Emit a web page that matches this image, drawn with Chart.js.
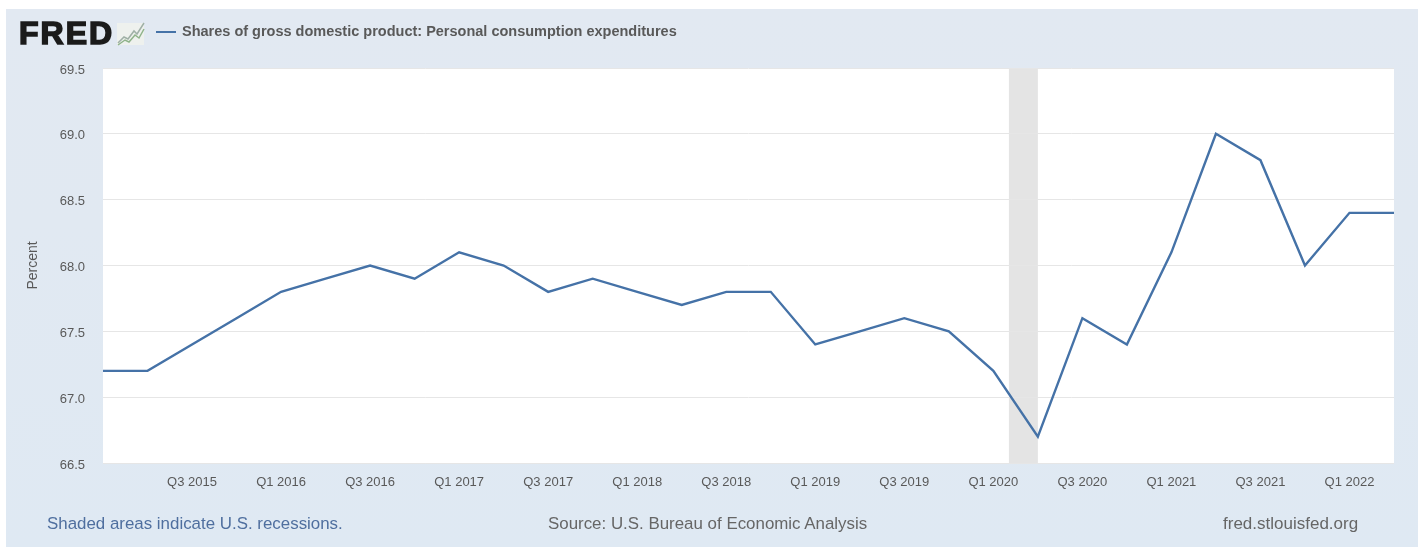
<!DOCTYPE html>
<html>
<head>
<meta charset="utf-8">
<title>Shares of gross domestic product: Personal consumption expenditures</title>
<script src="https://cdn.jsdelivr.net/npm/chart.js@4"></script>
<style>
  html, body { margin: 0; padding: 0; background: #fff; }
  body { width: 1425px; height: 548px; overflow: hidden; position: relative; font-family: "Liberation Sans", Arial, sans-serif; }
  #panel { position: absolute; left: 6px; top: 9px; width: 1412px; height: 538px; background: linear-gradient(180deg, #e2e9f2 0%, #e1e9f2 40%, #dfe9f3 100%); }
  #chartBox { position: absolute; left: 0; top: 0; width: 1425px; height: 548px; }
  .label { position: absolute; white-space: nowrap; }
  #logo { left: 19px; top: 15px; font-size: 32px; line-height: 37px; font-weight: 700; color: #1b1b1b; -webkit-text-stroke: 1.6px #1b1b1b; letter-spacing: 2px; }
  #logoIcon { position: absolute; left: 116px; top: 20px; }
  #legendDash { position: absolute; left: 156px; top: 31px; width: 20px; height: 2px; background: #4572a7; }
  #legendText { left: 182px; top: 22px; font-size: 14.5px; line-height: 18px; font-weight: 700; color: #595959; }
  #recessionNote { left: 47px; top: 515px; font-size: 16.9px; line-height: 18px; color: #4f6f9f; }
  #source { left: 548px; top: 515px; font-size: 16.9px; line-height: 18px; color: #666; }
  #siteLink { left: 1223px; top: 515px; font-size: 17px; line-height: 18px; color: #666; }
</style>
</head>
<body>
<div id="panel"></div>
<div id="chartBox"><canvas id="gdpChart" width="1425" height="548"></canvas></div>
<div class="label" id="logo">FRED</div>
<svg id="logoIcon" width="30" height="26" viewBox="0 0 30 26">
  <rect x="1" y="3" width="27" height="22" fill="#eef1ee"/>
  <polyline points="2,23 8,17 12,19 18,11 21,14 28,3" fill="none" stroke="#9fb0a6" stroke-width="1.5"/>
  <polyline points="2,25 9,20 13,22 19,15 23,18 28,9" fill="none" stroke="#8fb38a" stroke-width="1.5"/>
</svg>
<div id="legendDash"></div>
<div class="label" id="legendText"></div>
<div class="label" id="recessionNote"></div>
<div class="label" id="source"></div>
<div class="label" id="siteLink"></div>

<script>
const seriesName = "Shares of gross domestic product: Personal consumption expenditures";
const yAxisTitle = "Percent";
const noteText = "Shaded areas indicate U.S. recessions.";
const sourceText = "Source: U.S. Bureau of Economic Analysis";
const siteText = "fred.stlouisfed.org";

const quarters = [
  "Q1 2015", "Q2 2015", "Q3 2015", "Q4 2015",
  "Q1 2016", "Q2 2016", "Q3 2016", "Q4 2016",
  "Q1 2017", "Q2 2017", "Q3 2017", "Q4 2017",
  "Q1 2018", "Q2 2018", "Q3 2018", "Q4 2018",
  "Q1 2019", "Q2 2019", "Q3 2019", "Q4 2019",
  "Q1 2020", "Q2 2020", "Q3 2020", "Q4 2020",
  "Q1 2021", "Q2 2021", "Q3 2021", "Q4 2021",
  "Q1 2022", "Q2 2022",
];
const shareValues = [
  67.2, 67.2, 67.4, 67.6,
  67.8, 67.9, 68.0, 67.9,
  68.1, 68.0, 67.8, 67.9,
  67.8, 67.7, 67.8, 67.8,
  67.4, 67.5, 67.6, 67.5,
  67.2, 66.7, 67.6, 67.4,
  68.1, 69.0, 68.8, 68.0,
  68.4, 68.4,
];
const yTicks = [66.5, 67.0, 67.5, 68.0, 68.5, 69.0, 69.5];

// recession band, in quarter-index units on the x scale
const recessionBand = [20.35, 21];

document.getElementById("legendText").textContent = seriesName;
document.getElementById("recessionNote").textContent = noteText;
document.getElementById("source").textContent = sourceText;
document.getElementById("siteLink").textContent = siteText;

// white plot background and the shaded band, both under the gridlines
const plotBackground = {
  id: "plotBackground",
  beforeDraw(chart) {
    const { ctx, chartArea, scales } = chart;
    ctx.save();
    ctx.fillStyle = "#ffffff";
    ctx.fillRect(chartArea.left, chartArea.top, chartArea.width, chartArea.height);
    const x0 = scales.x.getPixelForValue(recessionBand[0]);
    const x1 = scales.x.getPixelForValue(recessionBand[1]);
    ctx.fillStyle = "#e4e4e4";
    ctx.fillRect(x0, chartArea.top, x1 - x0, chartArea.height);
    ctx.restore();
  },
};

new Chart(document.getElementById("gdpChart"), {
  type: "line",
  data: {
    labels: quarters,
    datasets: [
      {
        label: seriesName,
        data: shareValues,
        borderColor: "#4572a7",
        borderWidth: 2.4,
        pointRadius: 0,
        tension: 0,
        fill: false,
      },
    ],
  },
  options: {
    responsive: false,
    animation: false,
    layout: { padding: { left: 25, right: 31, top: 68, bottom: 55 } },
    plugins: { legend: { display: false }, tooltip: { enabled: false } },
    scales: {
      x: {
        type: "category",
        offset: false,
        grid: { display: false },
        border: { display: false },
        afterFit(scale) { scale.height = 30; },
        ticks: {
          autoSkip: false,
          maxRotation: 0,
          minRotation: 0,
          padding: 4,
          color: "#595959",
          font: { family: "Liberation Sans", size: 13 },
          // every second quarter, starting from the third
          callback(value, index) {
            return index > 0 && index % 2 === 0 ? quarters[index] : "";
          },
        },
      },
      y: {
        min: 66.5,
        max: 69.5,
        grid: { color: "#e6e6e6", lineWidth: 1, drawTicks: false },
        border: { display: false },
        afterFit(scale) { scale.width = 78; },
        afterBuildTicks(scale) { scale.ticks = yTicks.map((value) => ({ value })); },
        title: {
          display: true,
          text: yAxisTitle,
          color: "#595959",
          font: { family: "Liberation Sans", size: 14 },
          padding: 0,
        },
        ticks: {
          padding: 18,
          labelOffset: 2,
          color: "#595959",
          font: { family: "Liberation Sans", size: 13 },
          callback: (value) => value.toFixed(1),
        },
      },
    },
  },
  plugins: [plotBackground],
});
</script>
</body>
</html>
